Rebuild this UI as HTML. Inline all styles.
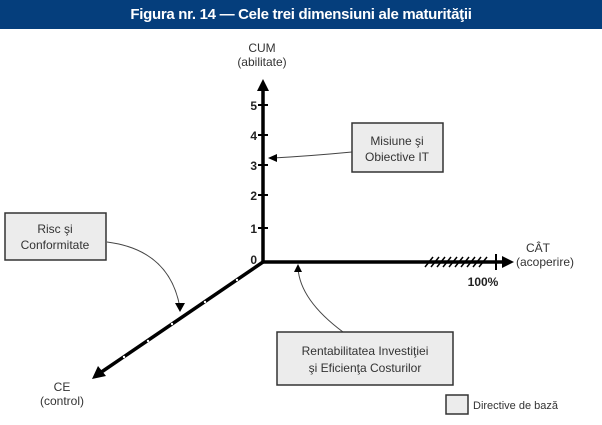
<!DOCTYPE html>
<html><head><meta charset="utf-8"><style>
body{margin:0;width:602px;height:425px;background:#fff;overflow:hidden;font-family:"Liberation Sans",sans-serif}
.hdr{position:absolute;left:0;top:0;width:602px;height:29px;background:#053e7c;color:#fff;font-weight:bold;font-size:15px;text-align:center;line-height:29px;letter-spacing:-0.3px}
</style></head><body>
<div class="hdr">Figura nr. 14 — Cele trei dimensiuni ale maturităţii</div>
<svg width="602" height="425" style="position:absolute;left:0;top:0" font-family="Liberation Sans, sans-serif">
<g fill="#333" font-size="12" text-anchor="middle">
<text x="262" y="52">CUM</text><text x="262" y="66">(abilitate)</text>
<text x="538" y="252">CÂT</text><text x="545" y="266">(acoperire)</text>
<text x="62" y="391">CE</text><text x="62" y="405">(control)</text>
</g>
<g stroke="#000" stroke-width="3.5" fill="none">
<line x1="263" y1="262" x2="263" y2="88"/>
<line x1="263" y1="262" x2="504" y2="262"/>
<line x1="263" y1="262" x2="100" y2="373"/>
</g>
<polygon points="263,79 257,91 269,91" fill="#000"/>
<polygon points="514,262 502,256 502,268" fill="#000"/>
<polygon points="92,379 98,366 106,376" fill="#000"/>
<g stroke="#000" stroke-width="2">
<line x1="258" y1="105" x2="268" y2="105"/><line x1="258" y1="135" x2="268" y2="135"/>
<line x1="258" y1="165" x2="268" y2="165"/><line x1="258" y1="195" x2="268" y2="195"/>
<line x1="258" y1="228" x2="268" y2="228"/><line x1="496" y1="254" x2="496" y2="270"/>
</g>
<g stroke="#000" stroke-width="1.5">
<line x1="425" y1="267" x2="433" y2="257"/><line x1="431" y1="267" x2="439" y2="257"/><line x1="437" y1="267" x2="445" y2="257"/><line x1="443" y1="267" x2="451" y2="257"/><line x1="449" y1="267" x2="457" y2="257"/><line x1="455" y1="267" x2="463" y2="257"/><line x1="461" y1="267" x2="469" y2="257"/><line x1="467" y1="267" x2="475" y2="257"/><line x1="473" y1="267" x2="481" y2="257"/><line x1="479" y1="267" x2="487" y2="257"/>
</g>
<g fill="#fff"><circle cx="237" cy="280" r="1.2"/><circle cx="205" cy="302" r="1.2"/><circle cx="172" cy="324" r="1.2"/><circle cx="148" cy="341" r="1.2"/><circle cx="124" cy="357" r="1.2"/></g>
<g font-size="12" font-weight="bold" fill="#222" text-anchor="end">
<text x="257" y="110">5</text><text x="257" y="140">4</text><text x="257" y="170">3</text><text x="257" y="200">2</text><text x="257" y="233">1</text><text x="257" y="264">0</text>
</g>
<text x="483" y="286" font-size="12" font-weight="bold" fill="#222" text-anchor="middle">100%</text>
<g fill="none" stroke="#444" stroke-width="1">
<path d="M352,152 Q310,156 273,158"/>
<path d="M107,242 Q170,250 180,308"/>
<path d="M343,332 Q300,300 298,268"/>
</g>
<polygon points="268,158 277,154 277,162" fill="#000"/>
<polygon points="180,312 175,303 185,303" fill="#000"/>
<polygon points="298,264 294,272 302,272" fill="#000"/>
<g fill="#ececec" stroke="#333" stroke-width="1.5">
<rect x="352" y="123" width="91" height="49"/>
<rect x="5" y="213" width="101" height="47"/>
<rect x="277" y="332" width="176" height="53"/>
<rect x="446" y="395" width="22" height="19"/>
</g>
<g font-size="12" fill="#333" text-anchor="middle">
<text x="397" y="145">Misiune şi</text><text x="397" y="161">Obiective IT</text>
<text x="55" y="233">Risc şi</text><text x="55" y="249">Conformitate</text>
<text x="365" y="355">Rentabilitatea Investiţiei</text><text x="365" y="372">şi Eficienţa Costurilor</text>
</g>
<text x="473" y="409" font-size="11" fill="#333">Directive de bază</text>
</svg>
</body></html>
